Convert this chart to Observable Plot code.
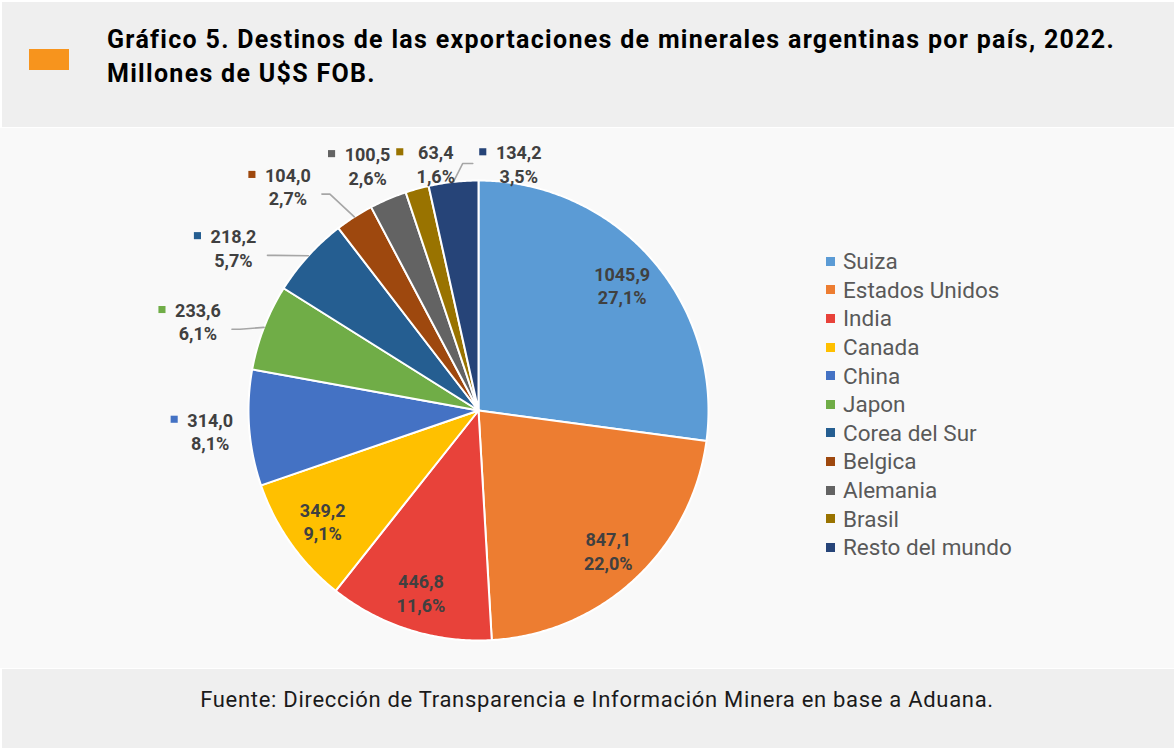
<!DOCTYPE html>
<html><head><meta charset="utf-8">
<script src="https://cdn.jsdelivr.net/npm/d3@7"></script>
<script src="https://cdn.jsdelivr.net/npm/@observablehq/plot@0.6"></script>
<style>
body{margin:0;background:#fff;font-family:Roboto,"Open Sans",sans-serif;}
#page{position:relative;width:1174px;height:748px;overflow:hidden;background:#fff;}
#header{position:absolute;left:2px;top:2px;width:1172px;height:125px;background:#efefef;}
#swatch{position:absolute;left:27px;top:47px;width:40px;height:21px;background:#f7941d;}
#title{position:absolute;left:105px;top:21px;font-weight:700;font-size:25px;letter-spacing:1.3px;line-height:34px;color:#000;white-space:nowrap;}
#chart{position:absolute;left:0;top:128px;width:1174px;height:540px;background:#f9f9f9;}
#legend{position:absolute;left:826px;top:119px;font-size:22.5px;color:#595959;}
#legend .row{display:flex;align-items:center;height:28.6px;white-space:nowrap;}
#legend .sw{width:9px;height:9px;margin-right:8px;flex:none;}
#footer{position:absolute;left:2px;top:669px;width:1172px;height:79px;background:#efefef;}
#source{position:absolute;left:9px;width:1172px;top:19px;text-align:center;font-size:22px;letter-spacing:0.7px;line-height:24px;color:#1a1a1a;}
</style>
</head><body>
<div id="page">
  <div id="header"><div id="swatch"></div>
    <div id="title">Gráfico 5. Destinos de las exportaciones de minerales argentinas por país, 2022.<br>Millones de U$S FOB.</div>
  </div>
  <div id="chart"><div id="plot"></div><div id="legend"></div></div>
  <div id="footer"><div id="source">Fuente: Dirección de Transparencia e Información Minera en base a Aduana.</div></div>
</div>
<script>
const countries = ["Suiza","Estados Unidos","India","Canada","China","Japon","Corea del Sur","Belgica","Alemania","Brasil","Resto del mundo"];
const values = [1045.9, 847.1, 446.8, 349.2, 314.0, 233.6, 218.2, 104.0, 100.5, 63.4, 134.2];
const colors = ["#5b9bd5","#ed7d31","#e8423a","#ffc000","#4472c4","#70ad47","#255e91","#9e480e","#636363","#997300","#264478"];

const W = 1174, H = 540, R = 230, cx = 478, cy = 282;
const total = d3.sum(values);
const fmt = v => v.toFixed(1).replace(".", ",");
const arcs = d3.pie().sort(null).value(d => d)(values);
const slices = arcs.map((a, i) => ({
  name: countries[i], value: values[i], color: colors[i],
  a0: a.startAngle, a1: a.endAngle, mid: (a.startAngle + a.endAngle) / 2,
  pct: values[i] / total * 100
}));
slices.forEach(s => s.label = fmt(s.value) + "\n" + fmt(s.pct) + "%");

// slice polygons (unit circle)
function poly(s) {
  const pts = [{x: 0, y: 0}];
  const n = Math.max(2, Math.ceil((s.a1 - s.a0) / (Math.PI / 360)));
  for (let k = 0; k <= n; k++) {
    const a = s.a0 + (s.a1 - s.a0) * k / n;
    pts.push({x: Math.sin(a), y: Math.cos(a)});
  }
  return pts;
}

// inside labels
const inside = slices.filter(s => s.pct >= 9).map(s => ({...s, x: 0.83 * Math.sin(s.mid), y: 0.83 * Math.cos(s.mid)}));

// outside labels with cluster spreading
const gap = 16;
const outside = slices.filter(s => s.pct < 9).map(s => ({...s, deg: s.mid * 180 / Math.PI}));
let clusters = outside.map(s => ({items: [s]}));
function lay(c) {
  const m = d3.mean(c.items, d => d.deg);
  c.start = m - gap * (c.items.length - 1) / 2;
  c.end = c.start + gap * (c.items.length - 1);
}
clusters.forEach(lay);
let merged = true;
while (merged) {
  merged = false;
  for (let i = 0; i < clusters.length - 1; i++) {
    if (clusters[i + 1].start - clusters[i].end < gap) {
      const c = {items: clusters[i].items.concat(clusters[i + 1].items)};
      lay(c);
      clusters.splice(i, 2, c);
      merged = true;
      break;
    }
  }
}
clusters.forEach(c => c.items.forEach((s, k) => s.ndeg = c.start + k * gap));
const topY = 1.074, minDx = 83 / R;
let prevTop = null;
outside.forEach(s => {
  const moved = Math.abs(s.ndeg - s.deg) > 3;
  const r = moved ? 1.28 : 1.17;
  const a = s.ndeg * Math.PI / 180;
  s.x = r * Math.sin(a);
  s.y = r * Math.cos(a);
  if (s.y >= topY) {
    s.y = topY;
    if (prevTop !== null) s.x = Math.max(s.x, prevTop + minDx);
    prevTop = s.x;
  }
  s.mx = s.x - 36 / R;            // marker
  s.my = s.y + 11.7 / R;
  const px = Math.sin(s.mid), py = Math.cos(s.mid);
  s.dist = Math.hypot(s.x - px, s.y - py) * R;
  if (s.dist > 50) {
    let ex, ey, elx;
    if (s.x < 0) { ex = s.x + 34 / R; ey = s.y - 8 / R; elx = ex + 8 / R; }
    else { ex = s.mx - 10 / R; ey = s.y; elx = ex - 10 / R; }
    s.leader = [{x: px, y: py}, {x: elx, y: ey}, {x: ex, y: ey}].map(p => ({...p, name: s.name}));
  }
});
const leaders = outside.filter(s => s.leader).flatMap(s => s.leader);

const labelFont = {fontSize: 18, fontWeight: "bold", fill: "#404040", lineHeight: 1.3, fontFamily: "Roboto"};

const plot = Plot.plot({
  width: W, height: H,
  marginTop: 0, marginRight: 0, marginBottom: 0, marginLeft: 0,
  x: {domain: [-cx / R, (W - cx) / R], range: [0, W], axis: null},
  y: {domain: [-(H - cy) / R, cy / R], range: [H, 0], axis: null},
  style: {background: "#f9f9f9", fontFamily: "Roboto"},
  marks: [
    ...slices.map(s => Plot.line(poly(s), {x: "x", y: "y", fill: s.color, stroke: "#ffffff", strokeWidth: 2, strokeLinejoin: "round", curve: "linear-closed"})),
    Plot.line(leaders, {x: "x", y: "y", z: "name", stroke: "#a6a6a6", strokeWidth: 1.6}),
    Plot.text(inside, {x: "x", y: "y", text: "label", ...labelFont}),
    Plot.text(outside, {x: "x", y: "y", text: "label", ...labelFont}),
    Plot.dot(outside, {x: "mx", y: "my", fill: "color", symbol: "square", r: 4, stroke: null})
  ]
});
document.getElementById("plot").appendChild(plot);

const legend = d3.select("#legend");
slices.forEach(s => {
  const row = legend.append("div").attr("class", "row");
  row.append("div").attr("class", "sw").style("background", s.color);
  row.append("span").text(s.name);
});
</script>
</body></html>
